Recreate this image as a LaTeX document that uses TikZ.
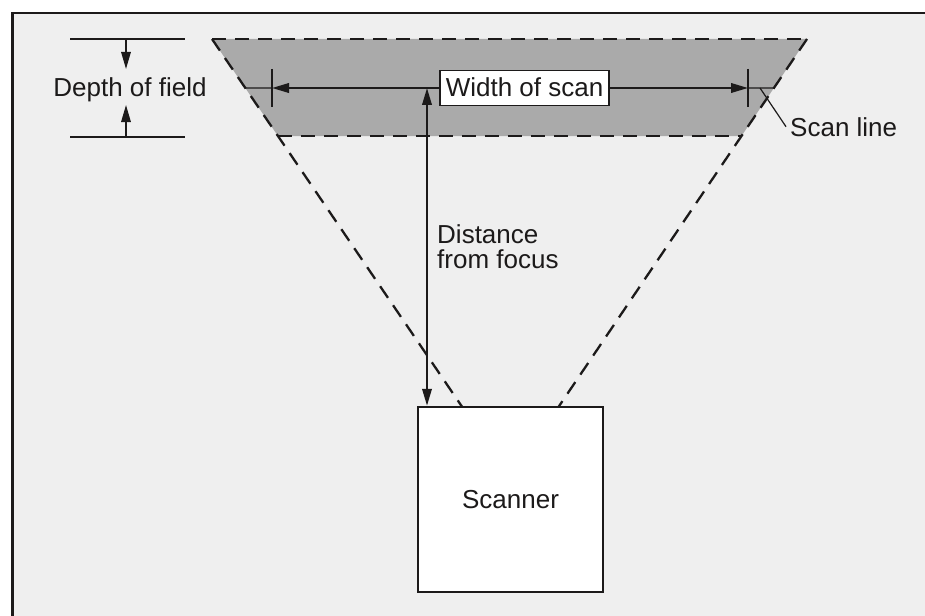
\documentclass[tikz,border=0pt]{standalone}
\usepackage{fontspec}
\setmainfont{Liberation Sans}
\usetikzlibrary{calc,arrows.meta,positioning}

\definecolor{panel}{HTML}{EFEFEF}
\definecolor{field}{HTML}{AAAAAA}
\definecolor{ink}{HTML}{1C1A1A}

\tikzset{
  >={Triangle[length=17pt,width=9.5pt]},
  edge/.style={ink, line width=2.3pt, dash pattern=on 14pt off 9pt},
  dim/.style={ink, line width=2.1pt},
  hair/.style={ink, line width=1.2pt},
  lbl/.style={font=\fontsize{26}{25}\selectfont, text=ink, inner sep=0pt},
}

\begin{document}
\begin{tikzpicture}[x=1pt,y=-1pt]
  \useasboundingbox (0,0) rectangle (925,615);
  \fill[white] (0,0) rectangle (925,615);
  \clip (0,0) rectangle (925,615);
  \draw[ink, line width=2.5pt, fill=panel] (12.5,13) rectangle (960,660);

  % field of view, narrowing to the focus point F
  \coordinate (TL) at (212,39);
  \coordinate (TR) at (807,39);
  \coordinate (F) at (510.5,478);
  \coordinate (BL) at ($(TL)!0.221!(F)$);
  \coordinate (BR) at ($(TR)!0.221!(F)$);

  \fill[field] (TL) -- (TR) -- (BR) -- (BL) -- cycle;
  \draw[edge, line width=2.7pt] (TL) -- (TR);
  \draw[edge, line width=2.7pt] (BL) -- (BR);
  \draw[edge] (TL) -- (F);
  \draw[edge] (TR) -- (F);

  % scan line and its end ticks
  \node[lbl, draw=ink, line width=1.8pt, fill=white, inner xsep=6pt,
        text height=19pt, text depth=3pt, minimum height=35pt] (width) at (524.5,88) {Width of scan};
  \coordinate (WL) at (272,88);
  \coordinate (WR) at (748,88);
  \coordinate (EL) at ($(TL)!{49/439}!(F)$);
  \coordinate (ER) at ($(TR)!{49/439}!(F)$);
  \draw[hair] (EL) -- (WL);
  \draw[hair] (ER) -- (WR);
  \draw[hair] ($(WL)+(0,-19)$) -- ($(WL)+(0,19)$);
  \draw[hair] ($(WR)+(0,-19)$) -- ($(WR)+(0,19)$);
  \draw[dim, ->] (width.west) -- (WL);
  \draw[dim, ->] (width.east) -- (WR);

  \node[lbl, draw=ink, line width=2.5pt, fill=white,
        minimum width=185pt, minimum height=185pt] (scanner) at (510.5,499.5) {Scanner};

  % distance from focus
  \coordinate (DT) at (427,88);
  \draw[dim, <->] (DT) -- (DT |- scanner.north);
  \node[lbl, anchor=north west, align=left] (dist) at (437,224) {Distance\\from focus};

  % depth of field
  \node[lbl, anchor=base] (depth) at (130,96) {Depth of field};
  \coordinate (DA) at (126,39);
  \coordinate (DB) at (126,137);
  \coordinate (DAtip) at (126,69);
  \coordinate (DBtip) at (126,105);
  \draw[hair] ($(DA)+(-56,0)$) -- ($(DA)+(59,0)$);
  \draw[hair] ($(DB)+(-56,0)$) -- ($(DB)+(59,0)$);
  \draw[hair, line width=1.6pt, ->] (DA) -- (DAtip);
  \draw[hair, line width=1.6pt, ->] (DB) -- (DBtip);

  % scan line label
  \coordinate (SP) at (760,88);
  \node[lbl, anchor=base west] (scanline) at (790,136) {Scan line};
  \draw[hair] (SP) -- ([xshift=-4pt]scanline.west);
\end{tikzpicture}
\end{document}
